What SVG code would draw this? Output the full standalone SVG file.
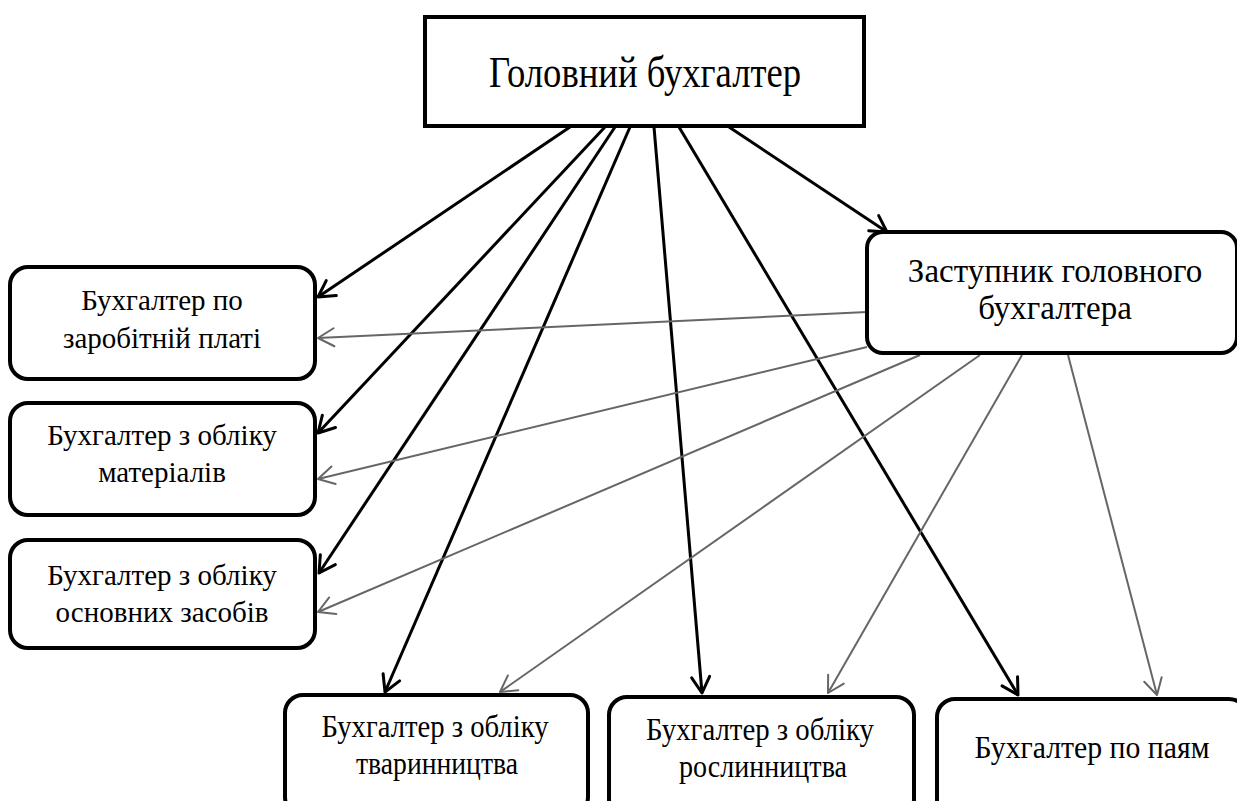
<svg xmlns="http://www.w3.org/2000/svg" width="1237" height="801" viewBox="0 0 1237 801">
<style>
.box{fill:#fff;stroke:#000;stroke-width:4}
.t{font-family:"Liberation Serif","Times New Roman",serif;fill:#000;text-anchor:middle}
.s28{font-size:29px}
.s31{font-size:31px}
.blk{stroke:#000;stroke-width:3;fill:none;marker-end:url(#ab)}
.gry{stroke:#666;stroke-width:2;fill:none;marker-end:url(#ag)}
</style>
<defs>
<marker id="ab" markerUnits="userSpaceOnUse" markerWidth="40" markerHeight="40" viewBox="-20 -20 40 40" refX="0" refY="0" orient="auto">
<path d="M-16,-9 L0,0 L-16,9" fill="none" stroke="#000" stroke-width="3" stroke-linejoin="round" stroke-linecap="round"/>
</marker>
<marker id="ag" markerUnits="userSpaceOnUse" markerWidth="40" markerHeight="40" viewBox="-20 -20 40 40" refX="0" refY="0" orient="auto">
<path d="M-16,-9 L0,0 L-16,9" fill="none" stroke="#666" stroke-width="2" stroke-linejoin="round" stroke-linecap="round"/>
</marker>
</defs>
<rect width="1237" height="801" fill="#fff"/>
<g id="connectors">
<line class="blk" x1="570" y1="127" x2="318" y2="297"/>
<line class="blk" x1="605" y1="127" x2="318" y2="433"/>
<line class="blk" x1="615" y1="127" x2="319" y2="573"/>
<line class="blk" x1="630" y1="127" x2="385" y2="692"/>
<line class="blk" x1="654" y1="127" x2="702" y2="693"/>
<line class="blk" x1="679" y1="127" x2="1018" y2="695"/>
<line class="blk" x1="729" y1="127" x2="887" y2="232"/>
<line class="gry" x1="867" y1="312" x2="318" y2="338"/>
<line class="gry" x1="867" y1="347" x2="318" y2="479"/>
<line class="gry" x1="920" y1="355" x2="318" y2="612"/>
<line class="gry" x1="980" y1="355" x2="500" y2="692"/>
<line class="gry" x1="1022" y1="355" x2="828" y2="693"/>
<line class="gry" x1="1068" y1="355" x2="1157" y2="695"/>
</g>
<g id="chief">
<rect class="box" x="425" y="17" width="439" height="109"/>
<text class="t" x="645" y="87" font-size="44" textLength="312" lengthAdjust="spacingAndGlyphs">Головний бухгалтер</text>
</g>
<g id="deputy">
<rect class="box" x="867" y="232" width="370" height="121" rx="16"/>
<text class="t" x="1055" y="282" font-size="33">Заступник головного</text>
<text class="t" x="1055" y="319" font-size="33">бухгалтера</text>
</g>
<g id="salary">
<rect class="box" x="10" y="267" width="305" height="112" rx="18"/>
<text class="t s28" x="162" y="310">Бухгалтер по</text>
<text class="t s28" x="162" y="348">заробітній платі</text>
</g>
<g id="materials">
<rect class="box" x="10" y="403" width="305" height="112" rx="18"/>
<text class="t s28" x="162" y="445">Бухгалтер з обліку</text>
<text class="t s28" x="162" y="482">матеріалів</text>
</g>
<g id="fixed-assets">
<rect class="box" x="10" y="540" width="305" height="108" rx="18"/>
<text class="t s28" x="162" y="585">Бухгалтер з обліку</text>
<text class="t s28" x="162" y="622">основних засобів</text>
</g>
<g id="livestock">
<rect class="box" x="285" y="695" width="303" height="120" rx="18"/>
<text class="t s31" x="435" y="737" textLength="227" lengthAdjust="spacingAndGlyphs">Бухгалтер з обліку</text>
<text class="t s31" x="437" y="774" textLength="162" lengthAdjust="spacingAndGlyphs">тваринництва</text>
</g>
<g id="crops">
<rect class="box" x="609" y="697" width="305" height="120" rx="18"/>
<text class="t s31" x="760" y="740" textLength="228" lengthAdjust="spacingAndGlyphs">Бухгалтер з обліку</text>
<text class="t s31" x="763" y="777" textLength="168" lengthAdjust="spacingAndGlyphs">рослинництва</text>
</g>
<g id="shares">
<rect class="box" x="937" y="699" width="310" height="120" rx="18"/>
<text class="t s31" x="1092" y="758" textLength="235" lengthAdjust="spacingAndGlyphs">Бухгалтер по паям</text>
</g>
</svg>
